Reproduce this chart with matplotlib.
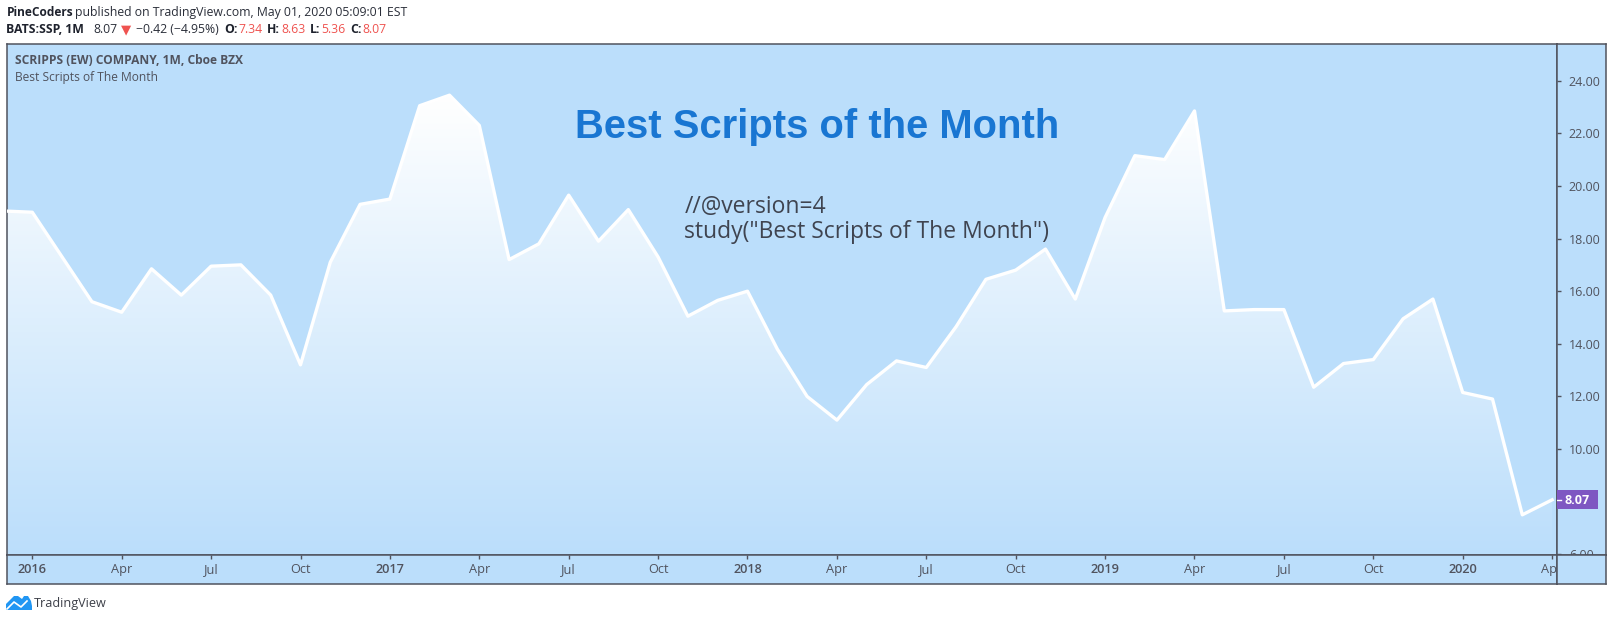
import matplotlib
matplotlib.use("Agg")
import matplotlib.pyplot as plt
import numpy as np
from matplotlib.colors import LinearSegmentedColormap
from matplotlib.patches import Polygon, Rectangle

# monthly closes, first value is Dec 2015 (month index -1), Jan 2016 = 0
CLOSES = [
    19.05, 19.0, 17.3, 15.6, 15.2, 16.85, 15.85, 16.95, 17.0, 15.85, 13.2, 17.1, 19.3,
    19.5, 23.05, 23.45, 22.3, 17.2, 17.8, 19.65, 17.9, 19.1, 17.3, 15.05, 15.65,
    16.0, 13.8, 12.0, 11.1, 12.45, 13.35, 13.1, 14.65, 16.45, 16.8, 17.6, 15.7,
    18.8, 21.15, 21.0, 22.85, 15.25, 15.3, 15.3, 12.35, 13.25, 13.4, 14.95, 15.7,
    12.15, 11.9, 7.5, 8.07,
]
MONTHS = list(range(-1, 52))
X_TICKS = [0, 3, 6, 9, 12, 15, 18, 21, 24, 27, 30, 33, 36, 39, 42, 45, 48, 51]
X_LABELS = ["2016", "Apr", "Jul", "Oct", "2017", "Apr", "Jul", "Oct", "2018", "Apr",
            "Jul", "Oct", "2019", "Apr", "Jul", "Oct", "2020", "Apr"]
# 8.00 sits behind the last price tag, so it is left out
Y_TICKS = [6, 10, 12, 14, 16, 18, 20, 22, 24]
LAST_PRICE = 8.07

W, H = 1612, 621
BG = "#bbdefb"
BORDER = "#50535e"
TEXT = "#50535e"
RED = "#ef5350"
FONT = "Open Sans"

# pixel layout
LEFT, RIGHT, OUTER = 7, 1557, 1605.5
TOP, BOTTOM, OUTER_BOTTOM = 43.5, 555, 584
Y_PER_UNIT = 26.31
Y_24 = 80.7
X_0, X_PER_MONTH = 32.3, 29.8


def make_axes(x0, y0, x1, y1, zorder):
    ax = fig.add_axes([x0 / W, 1 - y1 / H, (x1 - x0) / W, (y1 - y0) / H], zorder=zorder)
    ax.set_facecolor(BG)
    for s in ax.spines.values():
        s.set_color(BORDER)
        s.set_linewidth(1.1)
    return ax


def label(x, y, s, color=TEXT, size=8.8, weight="normal", family=FONT, **kw):
    fig.text(x / W, 1 - y / H, s, color=color, fontsize=size, fontweight=weight,
             family=family, va="center", **kw)


fig = plt.figure(figsize=(W / 100, H / 100), dpi=100, facecolor="white")

ymin = 24 - (BOTTOM - Y_24) / Y_PER_UNIT
ymax = 24 + (Y_24 - TOP) / Y_PER_UNIT
xmin = (LEFT - X_0) / X_PER_MONTH
xmax = (RIGHT - X_0) / X_PER_MONTH

ax = make_axes(LEFT, TOP, RIGHT, BOTTOM, 1)
ax.set_xlim(xmin, xmax)
ax.set_ylim(ymin, ymax)
ax.set_xticks([])
ax.set_yticks([])

# white to background gradient under the line
cmap = LinearSegmentedColormap.from_list("fade", ["#ffffff", BG])
grad = np.linspace(0, 1, 256).reshape(-1, 1)
im = ax.imshow(grad, cmap=cmap, aspect="auto", origin="upper",
               extent=(xmin, xmax, ymin, max(CLOSES)), zorder=1)
poly = ax.fill_between(MONTHS, CLOSES, ymin, facecolor="none", edgecolor="none")
im.set_clip_path(poly.get_paths()[0], transform=ax.transData)
ax.set_xlim(xmin, xmax)
ax.set_ylim(ymin, ymax)
ax.plot(MONTHS, CLOSES, color="white", linewidth=2.4, solid_joinstyle="round", zorder=3)

label(817, 127, "Best Scripts of the Month", color="#1976d2", size=28.8, weight="bold",
      family="Liberation Sans", ha="center", zorder=10)
label(685, 207.5, "//@version=4", color="#3f4450", size=16.5, zorder=10)
label(684, 231.5, 'study("Best Scripts of The Month")', color="#3f4450", size=16.5, zorder=10)
label(15, 61, "SCRIPPS (EW) COMPANY, 1M, Cboe BZX", size=8.65, weight="bold", zorder=10)
label(15, 77, "Best Scripts of The Month", size=8.65, zorder=10)

# time axis strip
tax = make_axes(LEFT, BOTTOM, RIGHT, OUTER_BOTTOM, 2)
tax.set_xlim(xmin, xmax)
tax.set_yticks([])
tax.set_xticks(X_TICKS)
tax.set_xticklabels(X_LABELS)
tax.tick_params(axis="x", bottom=False, top=True, direction="in", length=3, width=1,
                color=BORDER, labelcolor=TEXT, labelsize=9.2, pad=-15)
for t, s in zip(tax.get_xticklabels(), X_LABELS):
    t.set_family(FONT)
    if s.isdigit():
        t.set_fontweight("semibold")

# price axis strip
pax = make_axes(RIGHT, TOP, OUTER, BOTTOM, 3)
pax.set_xlim(0, 1)
pax.set_ylim(ymin, ymax)
pax.set_xticks([])
pax.set_yticks(Y_TICKS)
pax.set_yticklabels([f"{v:.2f}" for v in Y_TICKS])
pax.tick_params(axis="y", left=True, direction="in", length=3, width=1, color=BORDER,
                labelcolor=TEXT, labelsize=9, pad=-8.5)
for t in pax.get_yticklabels():
    t.set_family(FONT)
    t.set_ha("left")
pax.add_patch(Rectangle((0, LAST_PRICE - 0.36), 0.84, 0.72, facecolor="#7e57c2",
                        edgecolor="none", zorder=5))
pax.plot([0, 0.08], [LAST_PRICE, LAST_PRICE], color="white", linewidth=1, zorder=6)
pax.text(0.42, LAST_PRICE - 0.02, f"{LAST_PRICE:.2f}", color="white", fontsize=9,
         fontweight="bold", family=FONT, ha="center", va="center", zorder=6)

# corner box hides the cut off price label
corner = make_axes(RIGHT, BOTTOM, OUTER, OUTER_BOTTOM, 4)
corner.set_xticks([])
corner.set_yticks([])

# header
label(6.5, 12.7, "PineCoders", color="#1e222d", weight="bold", size=8.6)
label(75, 12.7, "published on TradingView.com, May 01, 2020 05:09:01 EST", color="#2a2e39")
label(6.5, 29.7, "BATS:SSP, 1M", color="#1e222d", weight="bold", size=8.8)
label(93, 29.7, "8.07", color="#2a2e39")
label(121, 29.7, "▼", color=RED, size=9.5, family="DejaVu Sans")
label(136, 29.7, "−0.42 (−4.95%)", color="#2a2e39")
for x, s, vx, v in [(224, "O:", 238, "7.34"), (267, "H:", 281, "8.63"),
                    (310, "L:", 321, "5.36"), (350, "C:", 362, "8.07")]:
    label(x, 29.7, s, color="#1e222d", weight="bold")
    label(vx, 29.7, v, color=RED)

# footer logo
LOGO = "#2196f3"
logo = [(6, 610), (6, 604), (10, 600), (14, 596), (18, 596), (22, 599), (24, 596), (28, 596),
        (31, 601), (32, 606), (32, 610)]
fig.add_artist(Polygon([(x / W, 1 - y / H) for x, y in logo], closed=True, facecolor=LOGO,
                       edgecolor="none", transform=fig.transFigure))
swoosh = [(7, 609), (14, 602), (21, 607), (27, 601)]
fig.add_artist(plt.Line2D([x / W for x, y in swoosh], [1 - y / H for x, y in swoosh],
                          color="white", linewidth=1.2, transform=fig.transFigure))
label(34, 603, "TradingView", color="#3c3f48", size=9.1)

fig.savefig("out.png", dpi=100)
